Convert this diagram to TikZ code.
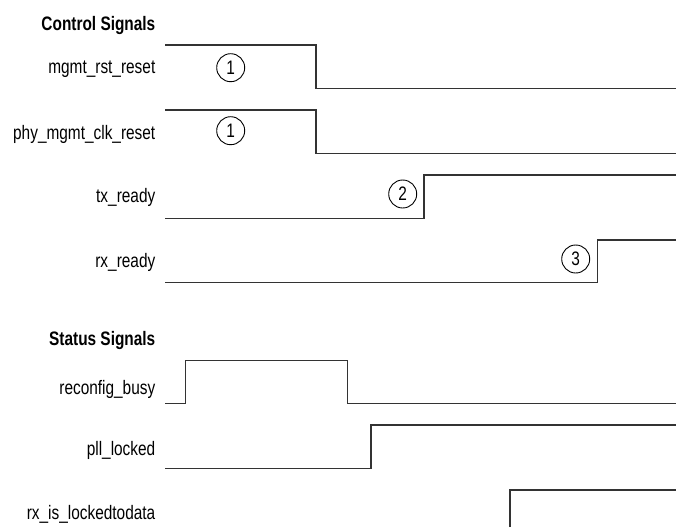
\documentclass[tikz,border=0pt]{standalone}
\usepackage{fontspec}
\setmainfont{Liberation Sans}[FakeStretch=0.79]
\usepackage{tikz}

\begin{document}
\begin{tikzpicture}[x=1pt,y=-1pt]
  \tikzstyle{sig}=[anchor=base east, inner sep=0pt, font=\fontsize{19.5}{22}\selectfont] % signal names, right aligned
  \tikzstyle{head}=[sig, font=\fontsize{19.5}{22}\selectfont\bfseries] % group titles in bold
  \tikzstyle{wave}=[black!80, line width=1.1pt] % waveforms
  \tikzstyle{num}=[draw, circle, line width=0.9pt, minimum size=28pt, inner sep=0pt, font=\fontsize{19.5}{22}\selectfont]
  \useasboundingbox (0,0) rectangle (676,527);
  % control signals
  \node[head] (ctrl) at (155.5,30.7) {Control Signals};
  \node[sig] (rst) at (155.5,74) {mgmt\_rst\_reset};
  \node[sig] (clkrst) at (155.5,139) {phy\_mgmt\_clk\_reset};
  \node[sig] (txrdy) at (155.5,202) {tx\_ready};
  \node[sig] (rxrdy) at (155.5,267) {rx\_ready};
  \draw[wave] (165,45) -- (316,45) -- (316,88.3) -- (676,88.3);
  \draw[wave] (165,110) -- (316,110) -- (316,153.3) -- (676,153.3);
  \draw[wave] (165,218.3) -- (424,218.3) -- (424,175) -- (676,175);
  \draw[wave] (165,282.7) -- (597.3,282.7) -- (597.3,240) -- (676,240);
  \node[num] (n1a) at (230.7,67.7) {1};
  \node[num] (n1b) at (230.7,130.7) {1};
  \node[num] (n2) at (402.7,194) {2};
  \node[num] (n3) at (575.7,259) {3};
  % status signals
  \node[head] (stat) at (155.5,345) {Status Signals};
  \node[sig] (busy) at (155.5,394) {reconfig\_busy};
  \node[sig] (pll) at (155.5,455) {pll\_locked};
  \node[sig] (lock) at (155.5,519) {rx\_is\_lockedtodata};
  \draw[wave] (165,403.7) -- (185.7,403.7) -- (185.7,360.3) -- (347.3,360.3) -- (347.3,403.7) -- (676,403.7);
  \draw[wave] (165,468.3) -- (371,468.3) -- (371,425) -- (676,425);
  \draw[wave] (510,527) -- (510,490) -- (676,490);
\end{tikzpicture}
\end{document}
